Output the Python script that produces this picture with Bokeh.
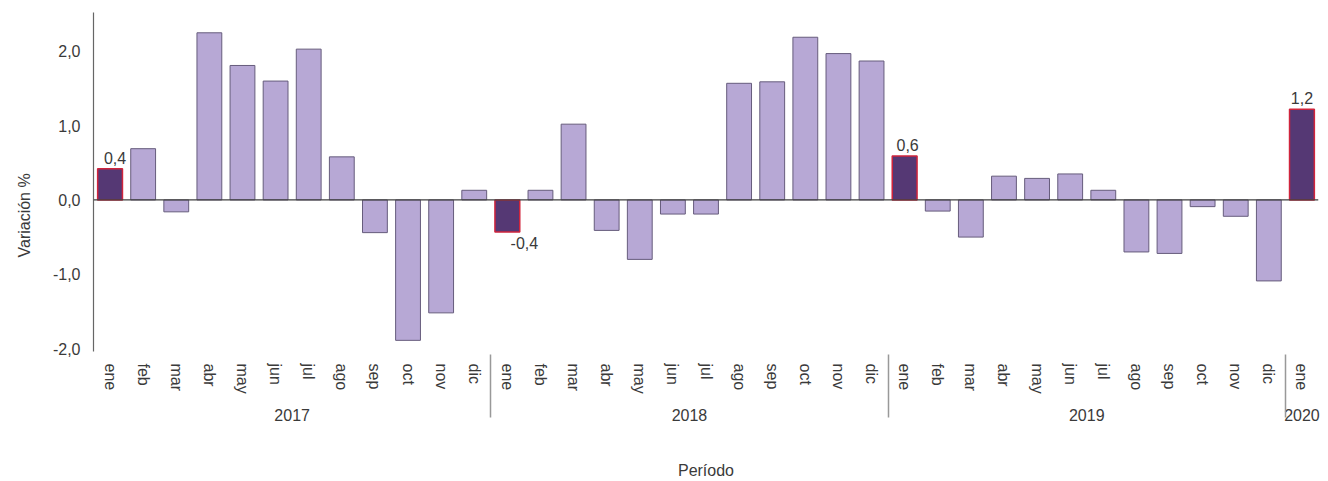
from bokeh.plotting import figure
from bokeh.models import FactorRange, Range1d, FixedTicker, Span, ColumnDataSource, Title
from bokeh.embed import file_html
from bokeh.resources import INLINE
from bokeh.core.properties import value

# ---------------- data ----------------
months = ["ene", "feb", "mar", "abr", "may", "jun", "jul", "ago", "sep", "oct", "nov", "dic"]
years = ["2017", "2018", "2019", "2020"]
values_2017 = [0.42, 0.69, -0.16, 2.25, 1.81, 1.60, 2.03, 0.58, -0.44, -1.89, -1.52, 0.13]
values_2018 = [-0.43, 0.13, 1.02, -0.41, -0.80, -0.19, -0.19, 1.57, 1.59, 2.19, 1.97, 1.87]
values_2019 = [0.59, -0.15, -0.50, 0.32, 0.29, 0.35, 0.13, -0.70, -0.72, -0.09, -0.22, -1.09]
values_2020 = [1.22]
y_ticks = [-2, -1, 0, 1, 2]
y_tick_labels = ["-2,0", "-1,0", "0,0", "1,0", "2,0"]
highlight_month = "ene"
label_dx = [5, 17, 3, 0]  # horizontal nudges of the value labels (px)

series = [values_2017, values_2018, values_2019, values_2020]
factors, vals = [], []
for yr, vs in zip(years, series):
    for m, v in zip(months, vs):
        factors.append((yr, m))
        vals.append(v)

reg = ColumnDataSource(dict(
    x=[f for f in factors if f[1] != highlight_month],
    top=[v for f, v in zip(factors, vals) if f[1] != highlight_month]))
hl_x = [f for f in factors if f[1] == highlight_month]
hl_v = [v for f, v in zip(factors, vals) if f[1] == highlight_month]
hl = ColumnDataSource(dict(x=hl_x, top=hl_v))

pos = ColumnDataSource(dict(
    x=[x for x, v in zip(hl_x, hl_v) if v >= 0],
    y=[v for v in hl_v if v >= 0],
    t=[f"{v:.1f}".replace(".", ",") for v in hl_v if v >= 0],
    dx=[d for d, v in zip(label_dx, hl_v) if v >= 0]))
neg = ColumnDataSource(dict(
    x=[x for x, v in zip(hl_x, hl_v) if v < 0],
    y=[v for v in hl_v if v < 0],
    t=[f"{v:.1f}".replace(".", ",") for v in hl_v if v < 0],
    dx=[d for d, v in zip(label_dx, hl_v) if v < 0]))

FONT = "Liberation Sans"
TXT = "#3a3a3a"

p = figure(
    x_range=FactorRange(*factors, range_padding=0, group_padding=0, subgroup_padding=0, factor_padding=0),
    y_range=Range1d(-2.04, 2.523),
    width=1328, height=481,
    output_backend="svg", toolbar_location=None,
    min_border_left=93, min_border_right=10, min_border_top=12, min_border_bottom=129,
)
p.outline_line_color = None
p.xgrid.grid_line_color = None
p.ygrid.grid_line_color = None
p.background_fill_color = "white"
p.border_fill_color = "white"

p.vbar(x="x", top="top", bottom=0, width=0.75, source=reg,
       fill_color="#b7a8d5", line_color="#665c7c", line_width=1)
p.vbar(x="x", top="top", bottom=0, width=0.75, source=hl,
       fill_color="#553874", line_color="#d0243c", line_width=1.5)

p.add_layout(Span(location=0, dimension="width", line_color="#404040", line_width=1.2))

p.text(x="x", y="y", text="t", x_offset="dx", y_offset=-5, source=pos,
       text_align="center", text_baseline="bottom",
       text_font=value(FONT), text_font_size="16px", text_color=TXT)
p.text(x="x", y="y", text="t", x_offset="dx", y_offset=5, source=neg,
       text_align="center", text_baseline="top",
       text_font=value(FONT), text_font_size="16px", text_color=TXT)

# y axis
ya = p.yaxis[0]
ya.ticker = FixedTicker(ticks=y_ticks)
ya.major_label_overrides = {t: l for t, l in zip(y_ticks, y_tick_labels)}
ya.minor_tick_line_color = None
ya.major_tick_line_color = None
ya.major_tick_out = 0
ya.major_tick_in = 0
ya.major_label_standoff = 13
ya.axis_line_color = "#666666"
ya.axis_line_width = 1.2
ya.major_label_text_font = FONT
ya.major_label_text_font_size = "16px"
ya.major_label_text_color = TXT

# y-axis title, placed like the reference (below the frame centre)
p.add_layout(Title(text="Variación %", align="left", vertical_align="top", offset=94, standoff=30,
                   text_font=FONT, text_font_size="16px", text_font_style="normal",
                   text_color=TXT), "left")

# x axis
xa = p.xaxis[0]
xa.axis_line_color = None
xa.major_tick_line_color = None
xa.minor_tick_line_color = None
xa.major_tick_out = 0
xa.major_tick_in = 0
xa.major_label_standoff = 12
xa.major_label_orientation = "vertical"
xa.major_label_text_font = FONT
xa.major_label_text_font_size = "16px"
xa.major_label_text_color = TXT
xa.group_text_font = FONT
xa.group_text_font_size = "16px"
xa.group_text_font_style = "normal"
xa.group_text_color = TXT
xa.separator_line_color = "#999999"
xa.separator_line_width = 1.5
xa.axis_label = "Período"
xa.axis_label_text_font = FONT
xa.axis_label_text_font_size = "16px"
xa.axis_label_text_font_style = "normal"
xa.axis_label_text_color = TXT
xa.axis_label_standoff = 38

open("out.html", "w").write(file_html(p, INLINE))
